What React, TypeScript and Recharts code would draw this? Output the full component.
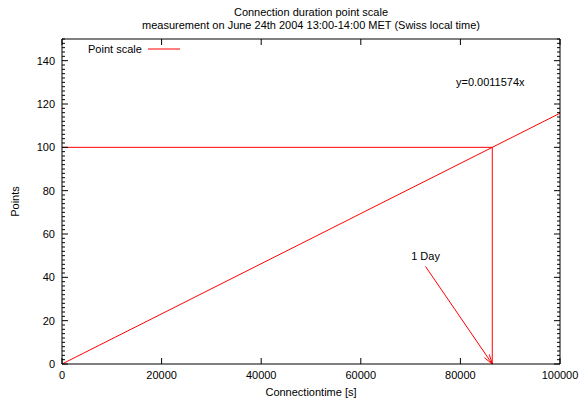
import React from 'react';
import { LineChart, Line, XAxis, YAxis, ReferenceLine, ReferenceDot, Legend } from 'recharts';

const FONT = '"Liberation Sans", Arial, Helvetica, sans-serif';
const RED = '#ff0000';

// axis ticks
const xTicks = [0, 20000, 40000, 60000, 80000, 100000];
const yTicks = [0, 20, 40, 60, 80, 100, 120, 140];
const yMinorTicks = Array.from({ length: 76 }, (_, i) => i * 2);

// point scale line y = 0.0011574x
const connectionTime = [0, 100000];
const points = [0, 115.74];

// markers
const oneDay = 86400;
const dayPoints = 100;
const arrowFrom = { t: 73000, p: 45 };
const dayLabel = { t: 73000, p: 50, text: '1 Day' };
const formulaLabel = { t: 86000, p: 130, text: 'y=0.0011574x' };

const chartData = connectionTime.map((t, i) => ({ t, p: points[i] }));

const txt = { fontFamily: FONT, fontSize: 11, fill: '#000' };

const LeftTick = (props: any) => {
  const { x, y, payload } = props;
  const major = yTicks.includes(payload.value);
  return (
    <g>
      <line x1={x} y1={y} x2={x + (major ? 6 : 3)} y2={y} stroke="#000" />
      {major && (
        <text x={x - 7} y={y} dy={4} textAnchor="end" {...txt}>
          {payload.value}
        </text>
      )}
    </g>
  );
};

const RightTick = (props: any) => {
  const { x, y, payload } = props;
  const major = yTicks.includes(payload.value);
  return <line x1={x} y1={y} x2={x - (major ? 6 : 3)} y2={y} stroke="#000" />;
};

const BottomTick = (props: any) => {
  const { x, y, payload } = props;
  return (
    <g>
      <line x1={x} y1={y} x2={x} y2={y - 6} stroke="#000" />
      <text x={x} y={y + 15} textAnchor="middle" {...txt}>
        {payload.value}
      </text>
    </g>
  );
};

const TopTick = (props: any) => {
  const { x, y } = props;
  return <line x1={x} y1={y} x2={x} y2={y + 6} stroke="#000" />;
};

const Arrow = (p: any) => {
  const { x1, y1, x2, y2 } = p;
  const ang = Math.atan2(y2 - y1, x2 - x1);
  const len = 10;
  const spread = 0.3;
  const a1 = ang + Math.PI - spread;
  const a2 = ang + Math.PI + spread;
  return (
    <g stroke={RED} strokeWidth={1}>
      <line x1={x1} y1={y1} x2={x2} y2={y2} />
      <line x1={x2} y1={y2} x2={x2 + len * Math.cos(a1)} y2={y2 + len * Math.sin(a1)} />
      <line x1={x2} y1={y2} x2={x2 + len * Math.cos(a2)} y2={y2 + len * Math.sin(a2)} />
    </g>
  );
};

const TitleLabel = (props: any) => {
  const vb = props.viewBox;
  const cx = vb.x + vb.width / 2;
  return (
    <g>
      <text x={cx} y={16} textAnchor="middle" {...txt}>Connection duration point scale</text>
      <text x={cx} y={29} textAnchor="middle" {...txt}>
        measurement on June 24th 2004 13:00-14:00 MET (Swiss local time)
      </text>
    </g>
  );
};

const XLabel = (props: any) => {
  const vb = props.viewBox;
  return (
    <text x={vb.x + vb.width / 2} y={396} textAnchor="middle" {...txt}>
      Connectiontime [s]
    </text>
  );
};

const YLabel = (props: any) => {
  const vb = props.viewBox;
  const cy = vb.y + vb.height / 2;
  return (
    <text x={15} y={cy} dy={4} textAnchor="middle" transform={`rotate(-90, 15, ${cy})`} {...txt}>
      Points
    </text>
  );
};

const LegendContent = () => (
  <div style={{ display: 'flex', alignItems: 'center', fontFamily: FONT, fontSize: 11, color: '#000' }}>
    <span>Point scale</span>
    <svg width={38} height={10} style={{ marginLeft: 2 }}>
      <line x1={4} y1={5} x2={36} y2={5} stroke={RED} />
    </svg>
  </div>
);

export default function App() {
  return (
    <div style={{ position: 'absolute', left: 0, top: 0, background: '#fff' }}>
      <LineChart
        width={579}
        height={403}
        data={chartData}
        margin={{ top: 38, right: 18, bottom: 0, left: 0 }}
        style={{ fontFamily: FONT }}
      >
        <XAxis
          xAxisId="b"
          dataKey="t"
          type="number"
          domain={[0, 100000]}
          ticks={xTicks}
          interval={0}
          height={39}
          tickSize={0}
          tickMargin={0}
          tickLine={false}
          axisLine={{ stroke: '#000' }}
          tick={BottomTick}
          label={XLabel}
        />
        <XAxis
          xAxisId="t"
          dataKey="t"
          orientation="top"
          type="number"
          domain={[0, 100000]}
          ticks={xTicks}
          interval={0}
          height={1}
          tickSize={0}
          tickMargin={0}
          tickLine={false}
          axisLine={{ stroke: '#000' }}
          tick={TopTick}
          label={TitleLabel}
        />
        <YAxis
          yAxisId="l"
          type="number"
          domain={[0, 150]}
          ticks={yMinorTicks}
          interval={0}
          width={62}
          tickSize={0}
          tickMargin={0}
          tickLine={false}
          axisLine={{ stroke: '#000' }}
          tick={LeftTick}
          label={YLabel}
        />
        <YAxis
          yAxisId="r"
          orientation="right"
          type="number"
          domain={[0, 150]}
          ticks={yMinorTicks}
          interval={0}
          width={1}
          tickSize={0}
          tickMargin={0}
          tickLine={false}
          axisLine={{ stroke: '#000' }}
          tick={RightTick}
        />
        <Legend
          layout="horizontal"
          verticalAlign="middle"
          align="center"
          wrapperStyle={{ top: 43, left: 88, width: 'auto' }}
          content={LegendContent}
        />
        <Line
          xAxisId="b"
          yAxisId="l"
          dataKey="p"
          stroke={RED}
          strokeWidth={1}
          dot={false}
          isAnimationActive={false}
        />
        <Line
          xAxisId="t"
          yAxisId="r"
          dataKey="p"
          stroke="none"
          dot={false}
          legendType="none"
          isAnimationActive={false}
        />
        <ReferenceLine
          xAxisId="b"
          yAxisId="l"
          segment={[{ x: 0, y: dayPoints }, { x: oneDay, y: dayPoints }]}
          stroke={RED}
        />
        <ReferenceLine
          xAxisId="b"
          yAxisId="l"
          segment={[{ x: oneDay, y: 0 }, { x: oneDay, y: dayPoints }]}
          stroke={RED}
        />
        <ReferenceLine
          xAxisId="b"
          yAxisId="l"
          segment={[{ x: arrowFrom.t, y: arrowFrom.p }, { x: oneDay, y: 0 }]}
          shape={Arrow}
        />
        <ReferenceDot
          xAxisId="b"
          yAxisId="l"
          x={dayLabel.t}
          y={dayLabel.p}
          r={0}
          stroke="none"
          label={{ value: dayLabel.text, position: 'center', ...txt }}
        />
        <ReferenceDot
          xAxisId="b"
          yAxisId="l"
          x={formulaLabel.t}
          y={formulaLabel.p}
          r={0}
          stroke="none"
          label={{ value: formulaLabel.text, position: 'center', ...txt }}
        />
      </LineChart>
    </div>
  );
}
